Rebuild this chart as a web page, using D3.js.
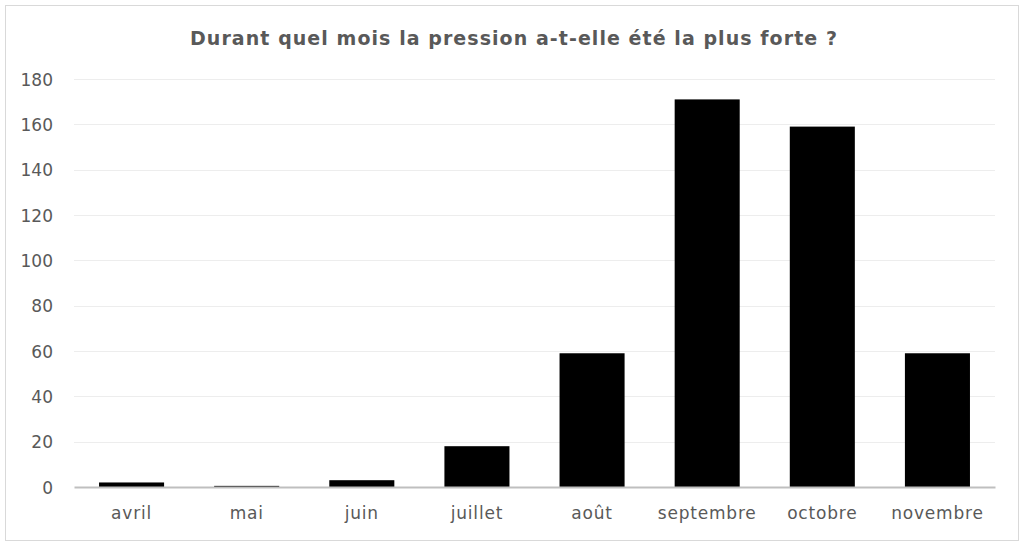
<!DOCTYPE html>
<html><head><meta charset="utf-8">
<script src="https://cdn.jsdelivr.net/npm/d3@7"></script>
<style>body{margin:0;background:#fff}svg{display:block}</style>
</head><body>
<svg id="c" width="1024" height="546"></svg>
<script>
const title = "Durant quel mois la pression a-t-elle été la plus forte ?";
const categories = ["avril","mai","juin","juillet","août","septembre","octobre","novembre"];
const values = [2, 0.5, 3, 18, 59, 171, 159, 59];
const yTicks = [0,20,40,60,80,100,120,140,160,180];

const svg = d3.select("#c");
svg.append("rect").attr("x",5.5).attr("y",5.5).attr("width",1013).attr("height",535)
  .attr("fill","#fff").attr("stroke","#d9d9d9");

const x = d3.scaleBand().domain(categories).range([74, 995]).paddingInner(0.435).paddingOuter(0.2175);
const y = d3.scaleLinear().domain([0,180]).range([487, 79]);

const t = svg.append("text").attr("x",514).attr("y",45).attr("text-anchor","middle")
  .attr("font-family","'DejaVu Sans', sans-serif").attr("font-weight","bold")
  .attr("font-size",19).attr("fill","#595959").text(title);
const tw = t.node().getComputedTextLength();
t.attr("letter-spacing", Math.max(0,(648 - tw)/title.length));

const grid = svg.append("g");
grid.selectAll("line").data(yTicks.filter(d=>d>0)).join("line")
  .attr("x1",74).attr("x2",995).attr("y1",d=>Math.round(y(d))+0.5).attr("y2",d=>Math.round(y(d))+0.5)
  .attr("stroke","#ededed").attr("stroke-width",1);

const yAxis = svg.append("g").attr("transform","translate(53,0)")
  .call(d3.axisLeft(y).tickValues(yTicks).tickSize(0).tickPadding(0));
yAxis.select(".domain").remove();
yAxis.selectAll("text").attr("font-family","'DejaVu Sans', sans-serif").attr("font-size",17).attr("fill","#595959").attr("dy","0.36em");

svg.append("g").selectAll("rect").data(values).join("rect")
  .attr("x",(d,i)=>x(categories[i])).attr("width",x.bandwidth())
  .attr("y",d=>y(d)).attr("height",d=>y(0)-y(d)).attr("fill","#000");

const xAxis = svg.append("g").attr("transform","translate(0,487)")
  .call(d3.axisBottom(x).tickSize(0).tickPadding(20));
xAxis.select(".domain").attr("stroke","#bfbfbf").attr("stroke-width",2);
xAxis.selectAll("text").attr("font-family","'DejaVu Sans', sans-serif").attr("font-size",17)
  .attr("letter-spacing",0.8).attr("fill","#595959");
</script>
</body></html>
